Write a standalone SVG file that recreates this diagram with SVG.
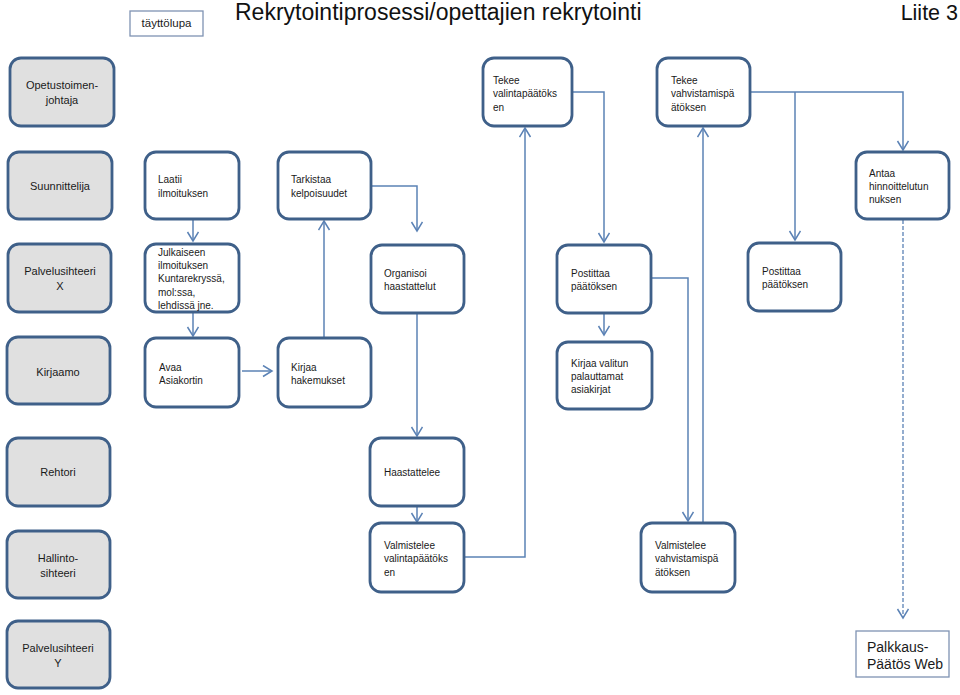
<svg xmlns="http://www.w3.org/2000/svg" width="960" height="695" viewBox="0 0 960 695">
<style>
.n{fill:#ffffff;stroke:#3f6089;stroke-width:2.8}
.g{fill:#e0e0e0;stroke:#3f6089;stroke-width:2.8}
.b{fill:#ffffff;stroke:#7f93b3;stroke-width:1.3}
.t{font-family:"Liberation Sans",Arial,sans-serif;font-size:10px;fill:#1a1a1a}
.l{font-family:"Liberation Sans",Arial,sans-serif;font-size:11px;fill:#1a1a1a;text-anchor:middle}
.c{fill:none;stroke:#5b82b5;stroke-width:1.5}
.d{fill:none;stroke:#5b82b5;stroke-width:1.3;stroke-dasharray:4 2}
</style>
<defs>
<marker id="a" markerUnits="userSpaceOnUse" markerWidth="14" markerHeight="14" refX="10" refY="6" orient="auto" viewBox="0 0 14 14">
<path d="M1,0.5 L10,6 L1,11.5" fill="none" stroke="#5b82b5" stroke-width="1.5"/>
</marker>
</defs>
<g id="header">
<rect class="b" x="130" y="11" width="73" height="25"/>
<text class="t" x="166.5" y="27" style="font-size:11.5px;text-anchor:middle">täyttölupa</text>
<text x="235" y="20" style="font-family:'Liberation Sans',Arial,sans-serif;font-size:23px;fill:#111">Rekrytointiprosessi/opettajien rekrytointi</text>
<text x="958" y="20" style="font-family:'Liberation Sans',Arial,sans-serif;font-size:21.5px;fill:#111;text-anchor:end">Liite 3</text>
</g>
<g id="connectors">
<path class="c" d="M193,219 V241" marker-end="url(#a)"/>
<path class="c" d="M193,312 V336" marker-end="url(#a)"/>
<path class="c" d="M242,371 H272" marker-end="url(#a)"/>
<path class="c" d="M324,338 V221" marker-end="url(#a)"/>
<path class="c" d="M371,186 H417 V231" marker-end="url(#a)"/>
<path class="c" d="M417,313 V436" marker-end="url(#a)"/>
<path class="c" d="M417,506 V522" marker-end="url(#a)"/>
<path class="c" d="M464,557 H525 V128" marker-end="url(#a)"/>
<path class="c" d="M572,92 H604 V242" marker-end="url(#a)"/>
<path class="c" d="M604,313 V335" marker-end="url(#a)"/>
<path class="c" d="M651,278 H688 V521" marker-end="url(#a)"/>
<path class="c" d="M703,523 V128" marker-end="url(#a)"/>
<path class="c" d="M750,92 H903 V150" marker-end="url(#a)"/>
<path class="c" d="M795,92 V240" marker-end="url(#a)"/>
<path class="d" d="M903,220 V618" marker-end="url(#a)"/>
</g>
<g id="opetustoimenjohtaja">
<rect class="g" x="10" y="58" width="104" height="68" rx="11"/>
<text class="l" x="62" y="89">Opetustoimen-</text>
<text class="l" x="62" y="104">johtaja</text>
</g>
<g id="tekee-valinta">
<rect class="n" x="483" y="58" width="89" height="68" rx="11"/>
<text class="t" x="493" y="84">Tekee</text>
<text class="t" x="493" y="97">valintapäätöks</text>
<text class="t" x="493" y="111">en</text>
</g>
<g id="tekee-vahvistamis">
<rect class="n" x="657" y="58" width="93" height="68" rx="11"/>
<text class="t" x="671" y="84">Tekee</text>
<text class="t" x="671" y="97">vahvistamispä</text>
<text class="t" x="671" y="111">ätöksen</text>
</g>
<g id="suunnittelija">
<rect class="g" x="8" y="152" width="104" height="67" rx="11"/>
<text class="l" x="60" y="190">Suunnittelija</text>
</g>
<g id="laatii">
<rect class="n" x="145" y="152" width="94" height="67" rx="11"/>
<text class="t" x="158" y="183">Laatii</text>
<text class="t" x="158" y="197">ilmoituksen</text>
</g>
<g id="tarkistaa">
<rect class="n" x="278" y="152" width="93" height="67" rx="11"/>
<text class="t" x="291" y="183">Tarkistaa</text>
<text class="t" x="291" y="197">kelpoisuudet</text>
</g>
<g id="antaa">
<rect class="n" x="856" y="152" width="93" height="67" rx="11"/>
<text class="t" x="869" y="177">Antaa</text>
<text class="t" x="869" y="190">hinnoittelutun</text>
<text class="t" x="869" y="203">nuksen</text>
</g>
<g id="palvelusihteeri-x">
<rect class="g" x="8" y="244" width="103" height="68" rx="11"/>
<text class="l" x="60" y="275">Palvelusihteeri</text>
<text class="l" x="60" y="290">X</text>
</g>
<g id="julkaiseen">
<rect class="n" x="145" y="244" width="94" height="68" rx="11"/>
<text class="t" x="158" y="256">Julkaiseen</text>
<text class="t" x="158" y="269">ilmoituksen</text>
<text class="t" x="158" y="282">Kuntarekryssä,</text>
<text class="t" x="158" y="296">mol:ssa,</text>
<text class="t" x="158" y="309">lehdissä jne.</text>
</g>
<g id="organisoi">
<rect class="n" x="371" y="245" width="93" height="68" rx="11"/>
<text class="t" x="384" y="277">Organisoi</text>
<text class="t" x="384" y="290">haastattelut</text>
</g>
<g id="postittaa-1">
<rect class="n" x="557" y="245" width="94" height="68" rx="11"/>
<text class="t" x="571" y="277">Postittaa</text>
<text class="t" x="571" y="290">päätöksen</text>
</g>
<g id="postittaa-2">
<rect class="n" x="748" y="243" width="93" height="68" rx="11"/>
<text class="t" x="762" y="275">Postittaa</text>
<text class="t" x="762" y="288">päätöksen</text>
</g>
<g id="kirjaamo">
<rect class="g" x="7" y="337" width="103" height="67" rx="11"/>
<text class="l" x="58" y="376">Kirjaamo</text>
</g>
<g id="avaa">
<rect class="n" x="145" y="338" width="94" height="69" rx="11"/>
<text class="t" x="159" y="371">Avaa</text>
<text class="t" x="159" y="384">Asiakortin</text>
</g>
<g id="kirjaa-hakemukset">
<rect class="n" x="278" y="338" width="93" height="69" rx="11"/>
<text class="t" x="291" y="371">Kirjaa</text>
<text class="t" x="291" y="384">hakemukset</text>
</g>
<g id="kirjaa-valitun">
<rect class="n" x="557" y="342" width="95" height="67" rx="11"/>
<text class="t" x="571" y="367">Kirjaa valitun</text>
<text class="t" x="571" y="380">palauttamat</text>
<text class="t" x="571" y="393">asiakirjat</text>
</g>
<g id="rehtori">
<rect class="g" x="7" y="438" width="103" height="68" rx="11"/>
<text class="l" x="58" y="476">Rehtori</text>
</g>
<g id="haastattelee">
<rect class="n" x="370" y="438" width="94" height="68" rx="11"/>
<text class="t" x="384" y="476">Haastattelee</text>
</g>
<g id="hallintosihteeri">
<rect class="g" x="7" y="531" width="103" height="67" rx="11"/>
<text class="l" x="58" y="562">Hallinto-</text>
<text class="l" x="58" y="577">sihteeri</text>
</g>
<g id="valmistelee-valinta">
<rect class="n" x="370" y="523" width="94" height="69" rx="11"/>
<text class="t" x="384" y="549">Valmistelee</text>
<text class="t" x="384" y="562">valintapäätöks</text>
<text class="t" x="384" y="576">en</text>
</g>
<g id="valmistelee-vahvistamis">
<rect class="n" x="641" y="523" width="94" height="69" rx="11"/>
<text class="t" x="655" y="549">Valmistelee</text>
<text class="t" x="655" y="562">vahvistamispä</text>
<text class="t" x="655" y="576">ätöksen</text>
</g>
<g id="palvelusihteeri-y">
<rect class="g" x="7" y="621" width="103" height="67" rx="11"/>
<text class="l" x="58" y="652">Palvelusihteeri</text>
<text class="l" x="58" y="667">Y</text>
</g>
<g id="palkkaus">
<rect class="b" x="856" y="631" width="93" height="46"/>
<text class="t" x="867" y="652" style="font-size:14px">Palkkaus-</text>
<text class="t" x="867" y="669" style="font-size:14px">Päätös Web</text>
</g>
</svg>
